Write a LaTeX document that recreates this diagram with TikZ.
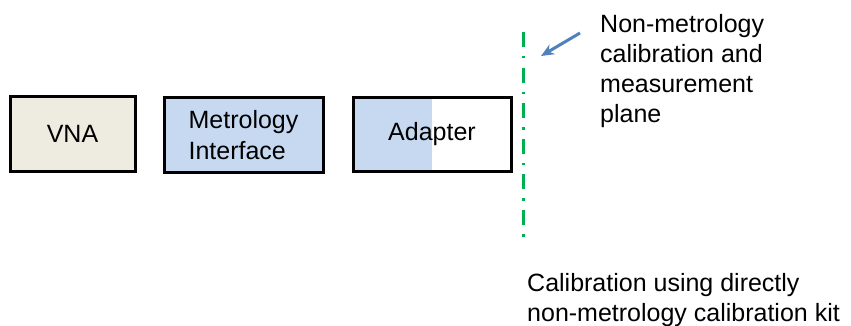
\documentclass[tikz,border=0pt]{standalone}
\usepackage{fontspec}
\setmainfont{Liberation Sans}
\usetikzlibrary{arrows.meta}
\definecolor{vnabeige}{HTML}{EEECE1}
\definecolor{metblue}{HTML}{C6D9F1}
\definecolor{planegreen}{HTML}{00B050}
\definecolor{pointerblue}{HTML}{4F81BD}
\tikzset{
  unitbox/.style={draw=black, line width=3pt, minimum height=74pt, inner sep=0pt,
    font=\fontsize{25}{31}\selectfont},
  labeltext/.style={inner sep=0pt, align=left, font=\fontsize{25}{30}\selectfont},
  planeline/.style={planegreen, line width=3pt, dash pattern=on 15pt off 9pt on 2.5pt off 9.1pt},
  pointer/.style={pointerblue, line width=3pt, -{Stealth[length=13pt,width=11pt]}}
}
\begin{document}
\begin{tikzpicture}[x=1pt,y=-1pt]
    \useasboundingbox (0,0) rectangle (851,326);
    \node[unitbox, minimum width=125pt, fill=vnabeige] (vna) at (72.5,134) {VNA};
    \node[unitbox, minimum width=159pt, fill=metblue, align=left] (interface) at (243.5,135) {Metrology\\Interface};
    \node[unitbox, minimum width=158pt, path picture={
        \fill[metblue] (path picture bounding box.south west) rectangle (path picture bounding box.north);}]
        (adapter) at (432,134.5) {Adapter};
    \coordinate (planetop) at (523,32);
    \coordinate (planebot) at (523,237.5);
    \draw[planeline] (planetop) -- (planebot);
    \node[labeltext, anchor=north west] (planetext) at (600,14) {Non-metrology\\calibration and\\measurement\\plane};
    \coordinate (pointertail) at (580,33);
    \coordinate (pointertip) at (541,56);
    \draw[pointer] (pointertail) -- (pointertip);
    \node[labeltext, anchor=north west] (caltext) at (527,273) {Calibration using directly\\non-metrology calibration kit};
\end{tikzpicture}
\end{document}
